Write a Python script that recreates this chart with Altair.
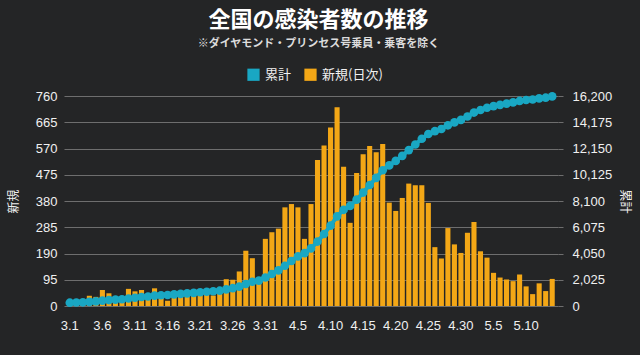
import altair as alt
import pandas as pd

dates = (
    [f"3.{d}" for d in range(1, 32)]
    + [f"4.{d}" for d in range(1, 31)]
    + [f"5.{d}" for d in range(1, 15)]
)

new_cases = [
    15, 16, 14, 37, 33, 58, 46, 33, 26, 62,
    53, 58, 42, 64, 34, 19, 44, 39, 39, 45,
    42, 40, 38, 44, 97, 95, 125, 200, 173, 87,
    243, 267, 280, 357, 369, 357, 243, 369, 528, 581,
    646, 719, 504, 301, 481, 549, 579, 556, 586, 374,
    344, 391, 443, 437, 437, 373, 213, 172, 282, 223,
    192, 265, 304, 198, 175, 120, 103, 96, 90, 114,
    71, 43, 82, 54, 98,
]

cumulative = [
    255, 271, 285, 322, 355, 413, 459, 492, 518, 580,
    633, 691, 733, 797, 831, 850, 894, 933, 972, 1017,
    1059, 1099, 1137, 1181, 1278, 1373, 1498, 1698, 1871, 1958,
    2201, 2468, 2748, 3105, 3474, 3831, 4074, 4443, 4971, 5552,
    6198, 6917, 7421, 7722, 8203, 8752, 9331, 9887, 10473, 10847,
    11191, 11582, 12025, 12462, 12899, 13272, 13485, 13657, 13939, 14162,
    14354, 14619, 14923, 15121, 15296, 15416, 15519, 15615, 15705, 15819,
    15890, 15933, 16015, 16069, 16167,
]

x_tick_labels = ["3.1", "3.6", "3.11", "3.16", "3.21", "3.26", "3.31",
                 "4.5", "4.10", "4.15", "4.20", "4.25", "4.30", "5.5", "5.10"]
left_ticks = [0, 95, 190, 285, 380, 475, 570, 665, 760]
right_ticks = [0, 2025, 4050, 6075, 8100, 10125, 12150, 14175, 16200]
series_names = ["累計", "新規(日次)"]

TEAL = "#19a7c3"
ORANGE = "#f3a716"
BG = "#242526"
TXT = "#f0f0f0"
NUMFONT = "Liberation Sans"
JPFONT = "Noto Sans CJK JP"

df = pd.DataFrame({"date": dates, "new": new_cases, "total": cumulative})

x_enc = alt.X(
    "date:N",
    sort=dates,
    scale=alt.Scale(paddingInner=0.22, paddingOuter=0.5),
    axis=alt.Axis(
        values=x_tick_labels, labelAngle=0, title=None, ticks=False, domain=False,
        grid=False, labelPadding=13, labelFontSize=13, labelColor=TXT, labelFont=NUMFONT,
    ),
)

bars = (
    alt.Chart(df)
    .transform_calculate(series="'新規(日次)'")
    .mark_bar(color=ORANGE)
    .encode(
        x=x_enc,
        y=alt.Y(
            "new:Q",
            scale=alt.Scale(domain=[0, 760], nice=False),
            axis=alt.Axis(
                values=left_ticks, title="新規", orient="left", grid=True,
                gridColor="#6e6e6e", gridWidth=1, ticks=False, domain=False,
                labelPadding=7, labelFontSize=13, labelColor=TXT, labelFont=NUMFONT,
                titleColor=TXT, titleFont=JPFONT, titleFontSize=12, titleFontWeight="normal",
                titleX=-44, titleY=105, titleAngle=270,
            ),
        ),
        color=alt.Color(
            "series:N",
            scale=alt.Scale(domain=series_names, range=[TEAL, ORANGE]),
            legend=alt.Legend(
                title=None, orient="none", legendX=183, legendY=-28, direction="horizontal",
                symbolType="square", symbolSize=150, symbolStrokeWidth=0,
                labelFontSize=13, labelColor=TXT, labelFont=JPFONT, columnPadding=12,
                labelOffset=5,
            ),
        ),
    )
)

right_y = alt.Y(
    "total:Q",
    scale=alt.Scale(domain=[0, 16200], nice=False),
    axis=alt.Axis(
        values=right_ticks, title="累計", orient="right", grid=False, format=",d",
        ticks=True, tickSize=5, tickColor="#6e6e6e", domain=False,
        labelPadding=9, labelFontSize=13, labelColor=TXT, labelFont=NUMFONT,
        titleColor=TXT, titleFont=JPFONT, titleFontSize=12, titleFontWeight="normal",
        titleX=59, titleY=105, titleAngle=90,
    ),
)

line = alt.Chart(df).mark_line(color=TEAL, strokeWidth=4).encode(x=x_enc, y=right_y)
points = alt.Chart(df).mark_circle(color=TEAL, size=75, opacity=1).encode(x=x_enc, y=right_y)

chart = (
    alt.layer(bars, alt.layer(line, points))
    .resolve_scale(y="independent")
    .properties(
        width=494,
        height=210,
        background=BG,
        autosize=alt.AutoSizeParams(type="none"),
        padding={"left": 64, "top": 96, "right": 82, "bottom": 49},
        title=alt.TitleParams(
            text="全国の感染者数の推移",
            subtitle="※ダイヤモンド・プリンセス号乗員・乗客を除く",
            anchor="middle", frame="bounds", color="#ffffff", font=JPFONT,
            fontSize=22, fontWeight="bold", subtitleColor="#dcdcdc",
            subtitleFont=JPFONT, subtitleFontSize=11, subtitleFontWeight="bold",
            subtitlePadding=6, offset=18,
        ),
    )
    .configure_view(stroke=None)
)

chart.save("out.html", embed_options={"renderer": "svg", "actions": False})
